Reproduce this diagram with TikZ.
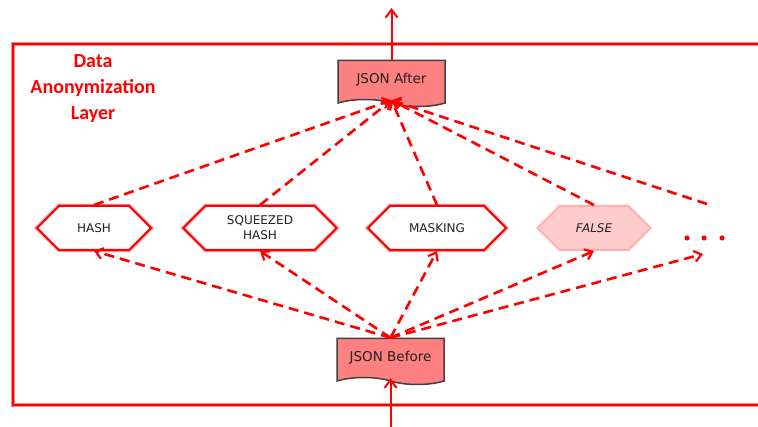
\documentclass[tikz,border=0pt]{standalone}
\usepackage{fontspec}
\setmainfont{DejaVu Sans}
\newfontfamily\titlefont{Carlito}
\usetikzlibrary{arrows.meta,shapes.symbols}
\definecolor{jsonfill}{HTML}{FF8080}
\definecolor{falsefill}{HTML}{FFCCCC}
\definecolor{falseedge}{HTML}{FFB0B0}
\definecolor{docedge}{HTML}{404040}
\definecolor{txt}{HTML}{222222}
\definecolor{halo}{HTML}{FF8A8A}
\begin{document}
\begin{tikzpicture}[x=1pt,y=-1pt,
  hexbox/.style={signal, signal to=west and east, signal pointer angle=90,
    minimum height=44pt, inner sep=0pt, fill=white, text=txt,
    font=\fontsize{12}{15}\selectfont, align=center,
    preaction={draw=halo, line width=4pt}, draw=red, line width=2pt},
  falsebox/.style={signal, signal to=west and east, signal pointer angle=90,
    minimum height=44pt, inner sep=0pt, fill=falsefill, draw=falseedge, line width=2pt,
    text=txt, font=\fontsize{12}{15}\selectfont\itshape},
  docbox/.style={tape, tape bend top=none, tape bend bottom=out and in, tape bend height=7pt,
    minimum width=107pt, minimum height=46pt, inner sep=0pt, fill=jsonfill, draw=docedge,
    line width=1.5pt, text=txt, font=\fontsize{13.5}{16}\selectfont},
  flow/.style={red, line width=2.6pt, dash pattern=on 10pt off 6pt,
    -{Straight Barb[length=7pt,width=11pt,line width=2.2pt]}},
  solidflow/.style={red, line width=2pt,
    -{Straight Barb[length=8pt,width=12pt,line width=2pt]}},
  title/.style={text=red, font=\titlefont\bfseries\fontsize{20}{26}\selectfont, align=center}
]
\useasboundingbox (0,0) rectangle (758,427);
\clip (0,0) rectangle (758,427);
% frame
\draw[halo, line width=4.5pt] (13,44) rectangle (775,405);
\draw[red, line width=2pt] (13,44) rectangle (775,405);
\node[title] (ttl) at (93,89) {Data\\Anonymization\\Layer};

% nodes
\node[docbox] (after) at (391.5,80) {JSON After};
\node[docbox] (before) at (390.5,358) {JSON Before};
\node[hexbox, minimum width=114pt] (hash) at (94,228) {HASH};
\node[hexbox, minimum width=153pt] (sq) at (260,228) {SQUEEZED\\HASH};
\node[hexbox, minimum width=138pt] (mask) at (437,228) {MASKING};
\node[falsebox, minimum width=113pt] (false) at (594,228) {FALSE};
\node[inner sep=0pt, minimum width=40pt, minimum height=8pt] (dots) at (704,238) {};
\foreach \dx in {-17,0,18} \fill[red] ([xshift=\dx pt]dots.center) circle (2.6pt);
\coordinate (dotsin) at (703,254);
\coordinate (dotsout) at (707,204);
\coordinate (topend) at (391.5,8);
\coordinate (botstart) at (390.5,427);

% connectors
\draw[solidflow] (after.north) -- (topend);
\draw[solidflow] (botstart) -- (before.south);
\foreach \t in {hash,sq,mask,false}
  \draw[flow] (before.north) -- (\t.south);
\draw[flow] (before.north) -- (dotsin);
\foreach \t in {hash,sq,mask,false}
  \draw[flow] (\t.north) -- (after.south);
\draw[flow] (dotsout) -- (after.south);
\end{tikzpicture}
\end{document}
